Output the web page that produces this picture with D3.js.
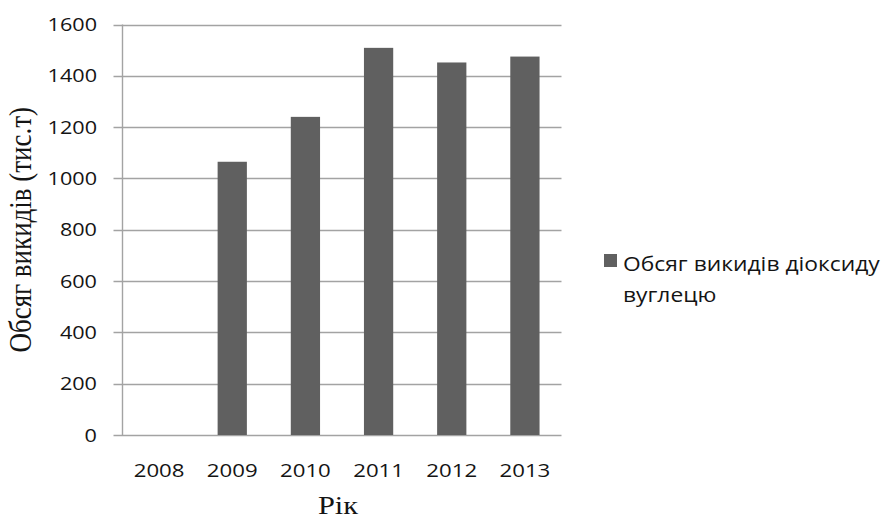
<!DOCTYPE html>
<html>
<head>
<meta charset="utf-8">
<script src="https://cdn.jsdelivr.net/npm/d3@7"></script>
<style>
  html, body { margin: 0; padding: 0; background: #fff; }
  svg { display: block; }
  .tick-label { font-family: "Open Sans", "Noto Sans", sans-serif; fill: #141414; }
  .axis-title { font-family: "Liberation Serif", "DejaVu Serif", serif; fill: #141414; }
</style>
</head>
<body>
<svg id="chart" width="885" height="519"></svg>
<script>
// CO2 emissions by year, thousand tonnes
const years = ["2008", "2009", "2010", "2011", "2012", "2013"];
const emissions = [0, 1065, 1240, 1509, 1452, 1475];
const yTicks = [0, 200, 400, 600, 800, 1000, 1200, 1400, 1600];
const seriesName = ["Обсяг викидів діоксиду", "вуглецю"];
const xTitle = "Рік";
const yTitle = "Обсяг викидів (тис.т)";

const plot = { left: 122.5, right: 561.5, top: 24.5, bottom: 435 };
const gridColor = "#a3a3a3";
const barColor = "#606060";
const stretch = 1.17; // horizontal widening of the lettering

const svg = d3.select("#chart");

const x = d3.scaleBand()
  .domain(years)
  .range([plot.left, plot.right])
  .paddingInner(0.6)
  .paddingOuter(0.3);

const y = d3.scaleLinear()
  .domain([0, 1600])
  .range([plot.bottom, plot.top]);

// horizontal gridlines, extending left as tick marks
svg.append("g")
  .selectAll("line")
  .data(yTicks)
  .join("line")
  .attr("x1", plot.left - 9)
  .attr("x2", plot.right)
  .attr("y1", d => Math.round(y(d)) + 0.5)
  .attr("y2", d => Math.round(y(d)) + 0.5)
  .attr("stroke", gridColor)
  .attr("stroke-width", 1.4);

// vertical axis line
svg.append("line")
  .attr("x1", plot.left).attr("x2", plot.left)
  .attr("y1", y(1600)).attr("y2", y(0))
  .attr("stroke", gridColor)
  .attr("stroke-width", 1.4);

// bars
svg.append("g")
  .selectAll("rect")
  .data(years.map((yr, i) => ({ yr, v: emissions[i] })))
  .join("rect")
  .attr("x", d => x(d.yr))
  .attr("width", x.bandwidth())
  .attr("y", d => y(d.v))
  .attr("height", d => y(0) - y(d.v))
  .attr("fill", barColor);

// y tick labels
svg.append("g")
  .selectAll("text")
  .data(yTicks)
  .join("text")
  .attr("class", "tick-label")
  .attr("transform", d => `translate(97,${y(d) + 6.5}) scale(${stretch},1)`)
  .attr("text-anchor", "end")
  .attr("font-size", 18.5)
  .text(d => d);

// x tick labels
svg.append("g")
  .selectAll("text")
  .data(years)
  .join("text")
  .attr("class", "tick-label")
  .attr("transform", d => `translate(${x(d) + x.bandwidth() / 2},477) scale(${stretch},1)`)
  .attr("text-anchor", "middle")
  .attr("font-size", 19)
  .text(d => d);

// axis titles
svg.append("text")
  .attr("class", "axis-title")
  .attr("transform", `translate(${(plot.left + plot.right) / 2 - 4},514) scale(${stretch},1)`)
  .attr("text-anchor", "middle")
  .attr("font-size", 26)
  .text(xTitle);

svg.append("text")
  .attr("class", "axis-title")
  .attr("transform", `translate(31,${(plot.top + plot.bottom) / 2}) scale(${stretch},1) rotate(-90)`)
  .attr("text-anchor", "middle")
  .attr("font-size", 27)
  .text(yTitle);

// legend
const legend = svg.append("g").attr("transform", "translate(604,254)");
legend.append("rect")
  .attr("width", 13).attr("height", 13)
  .attr("fill", barColor);
legend.append("text")
  .attr("class", "tick-label")
  .attr("transform", `translate(19,16.5) scale(${stretch},1)`)
  .attr("font-size", 19.5)
  .selectAll("tspan")
  .data(seriesName)
  .join("tspan")
  .attr("x", 0)
  .attr("dy", (d, i) => i === 0 ? 0 : 32)
  .text(d => d);
</script>
</body>
</html>
